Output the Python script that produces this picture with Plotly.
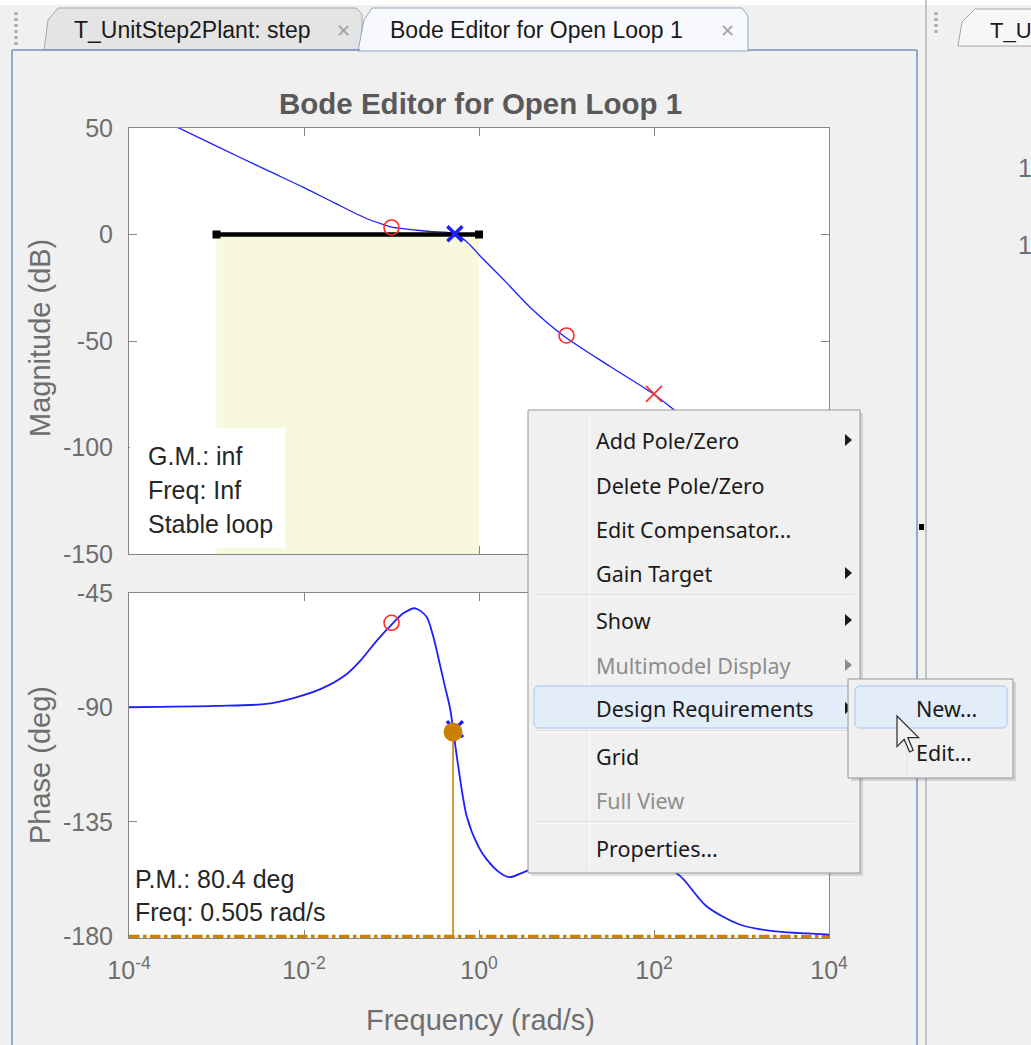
import numpy as np
import plotly.graph_objects as go

W, H = 1031, 1045

# ---- values read off the Bode editor ----
# open-loop magnitude (log10 of rad/s, dB)
MAG_LOG_FREQ = [-3.46, -3.0, -2.43, -2.0, -1.67, -1.28, -1.1, -0.98, -0.75, -0.56, -0.27,
                -0.1, 0.0, 0.3, 0.62, 0.96, 1.5, 1.99, 2.24, 3.0, 4.0]
MAG_DB = [50.6, 41.5, 30.3, 22.0, 15.2, 7.4, 4.8, 3.3, 2.2, 1.4, 0.4,
          -5.0, -9.5, -22.0, -35.6, -47.4, -62.0, -74.8, -82.7, -108.0, -148.0]

# open-loop phase (log10 of rad/s, deg)
PHASE_LOG_FREQ = [-4.0, -3.0, -2.43, -2.12, -1.8, -1.51, -1.36, -1.17, -0.98, -0.865,
                  -0.73, -0.6, -0.522, -0.45, -0.389, -0.33, -0.24, -0.14, -0.008, 0.09,
                  0.24, 0.35, 0.54, 1.0, 1.5, 2.0, 2.3, 2.6, 2.98, 3.36, 3.97, 4.0]
PHASE_DEG = [-89.9, -89.4, -88.6, -86.3, -82.6, -76.8, -71.8, -63.8, -56.7, -53.0,
             -51.0, -54.3, -62.2, -72.6, -81.8, -90.5, -112.5, -132.8, -144.6, -149.8,
             -155.0, -156.7, -154.3, -148.0, -146.0, -150.0, -156.3, -168.1, -175.3, -177.9, -179.2, -179.3]

# compensator zeros / poles
ZERO_FREQ = [0.1, 10.0]
ZERO_MAG_DB = [3.3, -47.4]
ZERO_PHASE_DEG = [-56.7, -148.0]
POLE_FREQ = [100.0]
POLE_MAG_DB = [-74.8]
POLE_PHASE_DEG = [-150.0]
GAIN_FREQ = [0.53]
GAIN_MAG_DB = [0.3]
GAIN_PHASE_DEG = [-98.5]

# phase margin
PM_FREQ = [0.505]
PM_PHASE = [-99.6]
PHASE_FLOOR = -180

# gain requirement
REQ_FREQ = [1e-3, 1.0]
REQ_GAIN_DB = [0, 0]
MAG_FLOOR = -150

X_TICKS = [1e-4, 1e-2, 1, 1e2, 1e4]
X_TICK_TEXT = ["10<sup>-4</sup>", "10<sup>-2</sup>", "10<sup>0</sup>", "10<sup>2</sup>", "10<sup>4</sup>"]
MAG_TICKS = [-150, -100, -50, 0, 50]
PHASE_TICKS = [-180, -135, -90, -45]

GM_LINES = ["G.M.: inf", "Freq: Inf", "Stable loop"]
PM_LINES = ["P.M.: 80.4 deg", "Freq: 0.505 rad/s"]

# (label, enabled, has submenu)
MENU_ITEMS = [
    ("Add Pole/Zero", True, True),
    ("Delete Pole/Zero", True, False),
    ("Edit Compensator...", True, False),
    ("Gain Target", True, True),
    ("Show", True, True),
    ("Multimodel Display", False, True),
    ("Design Requirements", True, True),
    ("Grid", True, False),
    ("Full View", False, False),
    ("Properties...", True, False),
]
SUBMENU_ITEMS = ["New...", "Edit..."]

# ---- styles ----
BG = "#F0F0F0"
AX = "#858585"
TICK_C = "#6E6E6E"
BLUE = "#1E1EFF"
RED = "#FF2A2A"
ORANGE = "#CC8000"
YELLOW = "#F8F8DC"
FONT = "Liberation Sans, Arial, sans-serif"
UI_FONT = "Noto Sans, Open Sans, sans-serif"
TAB_FONT = "Liberation Sans, Arial, sans-serif"

# plot rectangles in pixels
LEFT, RIGHT = 129, 829
MAG_TOP, MAG_BOT = 128, 554
PH_TOP, PH_BOT = 593, 938


def px(x):
    return x / W


def py(y):
    return 1 - y / H


shapes = []
annotations = []


def rect(x0, y0, x1, y1, fill="rgba(0,0,0,0)", line=None, width=1):
    shapes.append(dict(type="rect", xref="paper", yref="paper", layer="above",
                       x0=px(x0), x1=px(x1), y0=py(y1), y1=py(y0), fillcolor=fill,
                       line=dict(color=line or "rgba(0,0,0,0)", width=width if line else 0)))


def seg(x0, y0, x1, y1, color, width=1, dash="solid"):
    shapes.append(dict(type="line", xref="paper", yref="paper", layer="above",
                       x0=px(x0), x1=px(x1), y0=py(y0), y1=py(y1),
                       line=dict(color=color, width=width, dash=dash)))


def poly(points, fill, line=None, width=1):
    path = "M" + " L".join(f"{px(x):.5f},{py(y):.5f}" for x, y in points) + " Z"
    shapes.append(dict(type="path", xref="paper", yref="paper", layer="above", path=path,
                       fillcolor=fill, line=dict(color=line or "rgba(0,0,0,0)", width=width if line else 0)))


def text(x, y, s, size, color="#1A1A1A", family=FONT, xanchor="left", angle=0):
    annotations.append(dict(x=px(x), y=py(y), xref="paper", yref="paper", text=s,
                            showarrow=False, xanchor=xanchor, yanchor="middle", textangle=angle,
                            font=dict(size=size, color=color, family=family)))


fig = go.Figure()

# requirement region and line
fig.add_trace(go.Scatter(
    x=[REQ_FREQ[0], REQ_FREQ[0], REQ_FREQ[1], REQ_FREQ[1]],
    y=[MAG_FLOOR, REQ_GAIN_DB[0], REQ_GAIN_DB[1], MAG_FLOOR],
    fill="toself", fillcolor=YELLOW, line=dict(width=0), mode="lines",
    xaxis="x", yaxis="y", hoverinfo="skip"))
fig.add_trace(go.Scatter(
    x=np.power(10.0, MAG_LOG_FREQ), y=MAG_DB, mode="lines",
    line=dict(color=BLUE, width=1.3, shape="spline", smoothing=0.8), xaxis="x", yaxis="y"))
fig.add_trace(go.Scatter(
    x=REQ_FREQ, y=REQ_GAIN_DB, mode="lines+markers",
    line=dict(color="black", width=4.5), marker=dict(symbol="square", size=8, color="black"),
    xaxis="x", yaxis="y"))
fig.add_trace(go.Scatter(
    x=ZERO_FREQ, y=ZERO_MAG_DB, mode="markers", xaxis="x", yaxis="y",
    marker=dict(symbol="circle-open", size=15, color=RED, line=dict(width=1.6))))
fig.add_trace(go.Scatter(
    x=POLE_FREQ, y=POLE_MAG_DB, mode="markers", xaxis="x", yaxis="y",
    marker=dict(symbol="x-thin-open", size=16, color=RED, line=dict(width=1.6, color=RED))))
fig.add_trace(go.Scatter(
    x=GAIN_FREQ, y=GAIN_MAG_DB, mode="markers", xaxis="x", yaxis="y",
    marker=dict(symbol="x-thin-open", size=15, color=BLUE, line=dict(width=3.5, color=BLUE))))

# phase
fig.add_trace(go.Scatter(
    x=[1e-4, 1e4], y=[PHASE_FLOOR, PHASE_FLOOR], mode="lines", xaxis="x2", yaxis="y2",
    line=dict(color=ORANGE, width=3.5, dash="dashdot")))
fig.add_trace(go.Scatter(
    x=np.power(10.0, PHASE_LOG_FREQ), y=PHASE_DEG, mode="lines",
    line=dict(color=BLUE, width=1.8, shape="spline", smoothing=0.8), xaxis="x2", yaxis="y2"))
fig.add_trace(go.Scatter(
    x=[PM_FREQ[0], PM_FREQ[0]], y=[PM_PHASE[0], PHASE_FLOOR], mode="lines",
    line=dict(color=ORANGE, width=1.6), xaxis="x2", yaxis="y2"))
fig.add_trace(go.Scatter(
    x=GAIN_FREQ, y=GAIN_PHASE_DEG, mode="markers", xaxis="x2", yaxis="y2",
    marker=dict(symbol="x-thin-open", size=16, color=BLUE, line=dict(width=3.5, color=BLUE))))
fig.add_trace(go.Scatter(
    x=PM_FREQ, y=PM_PHASE, mode="markers", xaxis="x2", yaxis="y2",
    marker=dict(symbol="circle", size=19, color=ORANGE)))
fig.add_trace(go.Scatter(
    x=ZERO_FREQ, y=ZERO_PHASE_DEG, mode="markers", xaxis="x2", yaxis="y2",
    marker=dict(symbol="circle-open", size=15, color=RED, line=dict(width=1.6))))
fig.add_trace(go.Scatter(
    x=POLE_FREQ, y=POLE_PHASE_DEG, mode="markers", xaxis="x2", yaxis="y2",
    marker=dict(symbol="x-thin-open", size=16, color=RED, line=dict(width=1.6, color=RED))))

xcommon = dict(type="log", range=[-4, 4], tickvals=X_TICKS, ticktext=X_TICK_TEXT,
               ticks="inside", ticklen=8, tickcolor=AX, showline=True, linecolor=AX, linewidth=1,
               mirror="allticks", showgrid=False, zeroline=False, layer="below traces",
               automargin=False, domain=[px(LEFT), px(RIGHT)],
               tickfont=dict(size=25, color=TICK_C, family=FONT), ticklabelstandoff=10)
ycommon = dict(ticks="inside", ticklen=8, tickcolor=AX, showline=True, linecolor=AX, linewidth=1,
               mirror="allticks", showgrid=False, zeroline=False, layer="below traces",
               automargin=False, tickfont=dict(size=25, color=TICK_C, family=FONT),
               ticklabelstandoff=10)

fig.update_layout(
    width=W, height=H, autosize=False, showlegend=False,
    margin=dict(l=0, r=0, t=0, b=0, pad=0),
    paper_bgcolor=BG, plot_bgcolor="white",
    xaxis=dict(xcommon, anchor="y", showticklabels=False),
    yaxis=dict(ycommon, anchor="x", range=[MAG_FLOOR, 50], tickvals=MAG_TICKS,
               ticktext=[str(v) for v in MAG_TICKS],
               domain=[py(MAG_BOT), py(MAG_TOP)]),
    xaxis2=dict(xcommon, anchor="y2"),
    # a hair below -180 so the dash-dot floor line is not clipped in half
    yaxis2=dict(ycommon, anchor="x2", range=[PHASE_FLOOR - 0.6, -45], tickvals=PHASE_TICKS,
                ticktext=[str(v) for v in PHASE_TICKS],
                domain=[py(PH_BOT), py(PH_TOP)]),
)

# ---- window chrome: tabs and panel borders ----
rect(0, 0, W, 5, fill="white")
PANEL = "#7393C0"
seg(16, 12, 16, 46, "#A8A8A8", 3, "dot")
# inactive tab
poly([(44, 50), (48, 20), (58, 8), (356, 8), (362, 14), (362, 50)], "#E4E4E4", "#A6A6A6", 1)
# active tab
poly([(358, 51), (364, 20), (372, 8), (742, 8), (748, 16), (748, 51)], "#F7F9FC", "#8FA7C6", 1)
text(72, 30, "T_UnitStep2Plant: step", 23, "#1A1A1A", TAB_FONT)
text(343, 30, "✕", 18, "#A4A4A4", "DejaVu Sans", xanchor="center")
text(388, 30, "Bode Editor for Open Loop 1", 23, "#1A1A1A", TAB_FONT)
text(727, 30, "✕", 18, "#A4A4A4", "DejaVu Sans", xanchor="center")
# panel border
seg(12, 50, 360, 50, PANEL, 1.5)
seg(748, 50, 917, 50, PANEL, 1.5)
seg(12, 50, 12, H, PANEL, 1.5)
seg(917, 50, 917, H, PANEL, 1.5)
# right panel divider and tab
seg(926, 0, 926, H, "#B4B4B4", 1.5)
rect(919, 524, 924, 530, fill="black")
seg(936, 12, 936, 34, "#A8A8A8", 3, "dot")
poly([(958, 46), (962, 22), (975, 9), (W + 2, 9), (W + 2, 46)], "#F7F7F7", "#A6A6A6", 1)
text(988, 30, "T_U", 22, "#1A1A1A", TAB_FONT)
text(1016, 168, "1", 25, TICK_C)
text(1016, 245, "1", 25, TICK_C)

# ---- plot texts ----
text(480, 103, "<b>Bode Editor for Open Loop 1</b>", 29.5, "#595959", FONT, xanchor="center")
text(40, 338, "Magnitude (dB)", 29, TICK_C, FONT, xanchor="center", angle=-90)
text(40, 765, "Phase (deg)", 29, TICK_C, FONT, xanchor="center", angle=-90)
text(480, 1020, "Frequency (rad/s)", 29, TICK_C, FONT, xanchor="center")

rect(130, 428, 285, 548, fill="white")
for i, line in enumerate(GM_LINES):
    text(146, 456 + 34 * i, line, 25, "#262626")
for i, line in enumerate(PM_LINES):
    text(133, 879 + 33 * i, line, 25, "#262626")

# ---- context menu ----
MENU_X0, MENU_X1, MENU_Y0, MENU_Y1 = 528, 860, 410, 873
MENU_ROW_Y = [440, 485, 529, 573, 620, 665, 708, 756, 800, 848]
SEPARATOR_Y = [595, 731, 822]
rect(MENU_X0 + 3, MENU_Y0 + 3, MENU_X1 + 3, MENU_Y1 + 3, fill="rgba(0,0,0,0.12)")
rect(MENU_X0, MENU_Y0, MENU_X1, MENU_Y1, fill="#F0F0F0", line="#979797", width=1)
seg(588, MENU_Y0 + 3, 588, MENU_Y1 - 3, "#E2E2E2", 1)
seg(589, MENU_Y0 + 3, 589, MENU_Y1 - 3, "#FFFFFF", 1)
for ys in SEPARATOR_Y:
    seg(534, ys, 855, ys, "#D4D4D4", 1)
    seg(534, ys + 1, 855, ys + 1, "#FFFFFF", 1)
hl = MENU_ROW_Y[6]
poly([(537, hl - 22), (851, hl - 22), (854, hl - 19), (854, hl + 17), (851, hl + 20),
      (537, hl + 20), (534, hl + 17), (534, hl - 19)], "#E3EDFA", "#A9C6EC", 1)
for (label, enabled, sub), yy in zip(MENU_ITEMS, MENU_ROW_Y):
    col = "#1A1A1A" if enabled else "#8D8D8D"
    text(594, yy, label, 21.5, col, UI_FONT)
    if sub:
        poly([(845, yy - 6), (852, yy), (845, yy + 6)], col)

# submenu
SUB_X0, SUB_X1, SUB_Y0, SUB_Y1 = 848, 1013, 679, 778
SUB_ROW_Y = [708, 752]
rect(SUB_X0 + 3, SUB_Y0 + 3, SUB_X1 + 3, SUB_Y1 + 3, fill="rgba(0,0,0,0.12)")
rect(SUB_X0, SUB_Y0, SUB_X1, SUB_Y1, fill="#F0F0F0", line="#979797", width=1)
seg(907, SUB_Y0 + 3, 907, SUB_Y1 - 3, "#E2E2E2", 1)
hs = SUB_ROW_Y[0]
poly([(858, hs - 22), (1004, hs - 22), (1007, hs - 19), (1007, hs + 17), (1004, hs + 20),
      (858, hs + 20), (855, hs + 17), (855, hs - 19)], "#E3EDFA", "#A9C6EC", 1)
for label, yy in zip(SUBMENU_ITEMS, SUB_ROW_Y):
    text(914, yy, label, 21.5, "#1A1A1A", UI_FONT)

# mouse pointer
TIP_X, TIP_Y, S = 897, 716, 1.8
cursor = [(0, 0), (0, 17), (4, 13), (7, 20), (9, 19), (6, 12), (12, 12)]
poly([(TIP_X + S * a, TIP_Y + S * b) for a, b in cursor], "#F2F2F2", "#2A2A2A", 1.2)

fig.update_layout(shapes=shapes, annotations=annotations)
fig.write_html("out.html", config={"displayModeBar": False},
               post_script="document.body.style.margin='0';")
